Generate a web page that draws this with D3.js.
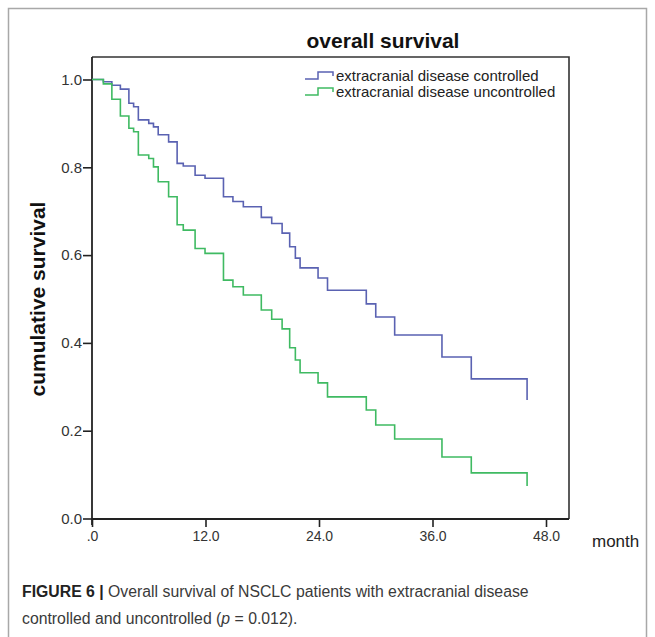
<!DOCTYPE html>
<html>
<head>
<meta charset="utf-8">
<script src="https://cdnjs.cloudflare.com/ajax/libs/d3/7.8.5/d3.min.js"></script>
<style>
  html, body { margin: 0; padding: 0; background: #fff; }
  svg { display: block; }
</style>
</head>
<body>
<div id="chart"></div>
<script>
// ── data ───────────────────────────────────────────────────
const seriesNames = ["extracranial disease controlled", "extracranial disease uncontrolled"];

// event times (months) and survival after each step
const controlledMonths = [0, 1.2, 2.1, 3.0, 3.9, 4.4, 4.9, 6.0, 6.5, 7.0, 8.1, 9.0, 9.65, 10.9, 11.95, 13.9, 14.9, 16.0, 17.9, 19.0, 20.1, 20.9, 21.5, 22.0, 23.9, 24.9, 29.0, 30.0, 32.0, 37.0, 40.1, 46.0];
const controlledSurv   = [1.0, 0.995, 0.987, 0.978, 0.946, 0.938, 0.908, 0.900, 0.892, 0.874, 0.858, 0.809, 0.803, 0.782, 0.775, 0.733, 0.722, 0.710, 0.686, 0.672, 0.650, 0.619, 0.593, 0.571, 0.548, 0.520, 0.489, 0.459, 0.418, 0.368, 0.318, 0.270];

const uncontrolledMonths = [0, 1.2, 2.1, 3.0, 3.9, 4.4, 4.9, 6.0, 6.5, 7.0, 8.1, 9.0, 9.65, 10.9, 11.95, 13.9, 14.9, 16.0, 17.9, 19.0, 20.1, 20.9, 21.5, 22.0, 23.9, 24.9, 29.0, 30.0, 32.0, 37.0, 40.1, 46.0];
const uncontrolledSurv   = [1.0, 0.990, 0.955, 0.917, 0.889, 0.881, 0.828, 0.820, 0.801, 0.767, 0.733, 0.669, 0.657, 0.615, 0.604, 0.543, 0.528, 0.509, 0.475, 0.454, 0.432, 0.389, 0.361, 0.332, 0.309, 0.277, 0.247, 0.213, 0.181, 0.140, 0.104, 0.074];

const xTicks = [0, 12, 24, 36, 48];
const xTickLabels = [".0", "12.0", "24.0", "36.0", "48.0"];
const yTicks = [0, 0.2, 0.4, 0.6, 0.8, 1.0];
const yTickLabels = ["0.0", "0.2", "0.4", "0.6", "0.8", "1.0"];

const COLORS = ["#5a62b2", "#3fba62"];
const FONT = "'Liberation Sans', Arial, Helvetica, sans-serif";

// ── layout ────────────────────────────────────────────────
const W = 655, H = 637;
const plot = { left: 92, right: 569, top: 57, bottom: 519 };

const svg = d3.select("#chart").append("svg")
  .attr("width", W).attr("height", H)
  .style("font-family", FONT);

// outer figure box
svg.append("path")
  .attr("d", `M8.5,${H + 2}V8.5H646.5V${H + 2}`)
  .attr("fill", "none").attr("stroke", "#a8a8a8").attr("stroke-width", 1.5);

const x = d3.scaleLinear().domain([0, 48]).range([92, 546]);
const y = d3.scaleLinear().domain([0, 1]).range([518.5, 79.5]);

// frame (top + right)
svg.append("path")
  .attr("d", `M${plot.left},${plot.top}H${plot.right}V${plot.bottom}`)
  .attr("fill", "none").attr("stroke", "#333").attr("stroke-width", 1.6);

// title
svg.append("text")
  .attr("x", 383).attr("y", 48)
  .attr("text-anchor", "middle")
  .attr("font-size", 21).attr("font-weight", "bold").attr("fill", "#111")
  .text("overall survival");

// y axis
const yAxis = svg.append("g").attr("transform", `translate(${plot.left},0)`)
  .call(d3.axisLeft(y).tickValues(yTicks).tickSize(9).tickPadding(1)
    .tickFormat((d, i) => yTickLabels[i]));
yAxis.select(".domain").attr("d", `M0,${plot.top}V${plot.bottom + 6}`)
  .attr("stroke", "#222").attr("stroke-width", 1.8);
yAxis.selectAll(".tick line").attr("stroke", "#222").attr("stroke-width", 1.6);
yAxis.selectAll(".tick text").attr("font-size", 15).attr("fill", "#333")
  .attr("font-family", FONT);

// x axis
const xAxis = svg.append("g").attr("transform", `translate(0,${plot.bottom})`)
  .call(d3.axisBottom(x).tickValues(xTicks).tickSize(8).tickPadding(4)
    .tickFormat((d, i) => xTickLabels[i]));
xAxis.select(".domain").attr("d", `M${plot.left},0H${plot.right}`)
  .attr("stroke", "#222").attr("stroke-width", 1.8);
xAxis.selectAll(".tick line").attr("stroke", "#222").attr("stroke-width", 1.6);
xAxis.selectAll(".tick text").attr("font-size", 14).attr("fill", "#333")
  .attr("font-family", FONT);

svg.append("text")
  .attr("x", 592).attr("y", 547)
  .attr("font-size", 17).attr("fill", "#222")
  .text("month");

// y axis title
svg.append("text")
  .attr("transform", `translate(45,${(79.5 + 518.5) / 2}) rotate(-90)`)
  .attr("text-anchor", "middle")
  .attr("font-size", 21).attr("font-weight", "bold").attr("fill", "#111")
  .text("cumulative survival");

// ── curves ────────────────────────────────────────────────
const line = d3.line()
  .x(d => x(d[0])).y(d => y(d[1]))
  .curve(d3.curveStepAfter);

const curves = [
  d3.zip(controlledMonths, controlledSurv),
  d3.zip(uncontrolledMonths, uncontrolledSurv)
];

svg.append("g").selectAll("path")
  .data(curves)
  .join("path")
  .attr("d", line)
  .attr("fill", "none")
  .attr("stroke", (d, i) => COLORS[i])
  .attr("stroke-width", 1.6);

// ── legend ────────────────────────────────────────────────
const leg = svg.append("g");
seriesNames.forEach((name, i) => {
  const ly = 76 + i * 16;
  leg.append("path")
    .attr("d", `M305,${ly + 3}H318V${ly - 4}H333V${ly}`)
    .attr("fill", "none").attr("stroke", COLORS[i]).attr("stroke-width", 1.5);
  leg.append("text")
    .attr("x", 336).attr("y", ly + 5)
    .attr("font-size", 15).attr("fill", "#222")
    .text(name);
});

// ── caption ───────────────────────────────────────────────
const cap = svg.append("g").attr("font-size", 15.8).attr("fill", "#3a3a3a");
const c1 = cap.append("text").attr("x", 22).attr("y", 597);
c1.append("tspan").attr("font-weight", "bold").attr("fill", "#222").text("FIGURE 6 | ");
c1.append("tspan").text("Overall survival of NSCLC patients with extracranial disease");
const c2 = cap.append("text").attr("x", 22).attr("y", 624);
c2.append("tspan").text("controlled and uncontrolled (");
c2.append("tspan").attr("font-style", "italic").text("p");
c2.append("tspan").text(" = 0.012).");
</script>
</body>
</html>
